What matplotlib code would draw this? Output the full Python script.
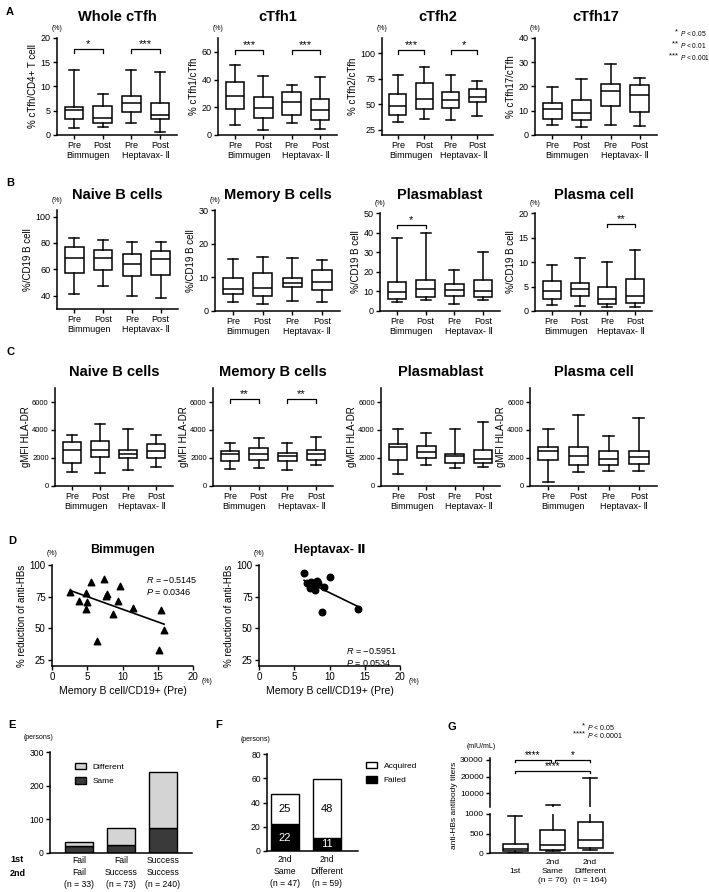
import matplotlib
matplotlib.use('Agg')
import matplotlib.pyplot as plt
import numpy as np

plt.rcParams['font.family'] = ['Liberation Sans', 'DejaVu Sans']
plt.rcParams['mathtext.fontset'] = 'custom'
plt.rcParams['mathtext.it'] = 'Liberation Sans:italic'
plt.rcParams['mathtext.rm'] = 'Liberation Sans'

W, H = 709, 892
fig = plt.figure(figsize=(W / 100, H / 100), dpi=100)

# ---------------- data ----------------
box_labels = ['Pre', 'Post', 'Pre', 'Post']
groups = ['Bimmugen', 'Heptavax- Ⅱ']

# five-number summaries: whisker low, q1, median, q3, whisker high
whole_ctfh = [[1.4, 3.4, 5.2, 5.7, 13.3], [1.7, 2.4, 3.6, 6.0, 8.4],
              [2.4, 4.7, 6.5, 8.1, 13.3], [0.7, 3.2, 4.2, 6.5, 12.9]]
ctfh1 = [[6.9, 18.5, 28.4, 38.4, 50.2], [3.6, 12.6, 19.7, 27.3, 42.7],
         [9.0, 14.2, 23.7, 30.8, 36.3], [4.0, 11.1, 18.2, 25.8, 41.5]]
ctfh2 = [[32.7, 40.0, 48.0, 60.0, 78.5], [36.0, 45.5, 55.4, 71.0, 86.5],
         [34.6, 46.5, 54.5, 62.5, 78.5], [39.0, 52.2, 57.7, 64.7, 73.0]]
ctfh17 = [[4.2, 6.7, 10.8, 13.2, 19.7], [3.2, 6.3, 9.0, 14.6, 22.9],
          [4.2, 11.8, 18.0, 21.1, 29.4], [3.8, 9.4, 16.4, 20.6, 23.6]]

naive_b = [[41.0, 57.0, 68.4, 76.7, 83.5], [47.3, 59.5, 69.0, 74.7, 82.3],
           [40.0, 55.0, 63.8, 71.6, 80.5], [38.5, 55.7, 67.8, 74.2, 80.5]]
memory_b = [[2.8, 5.0, 6.5, 9.7, 15.4], [2.1, 4.4, 6.9, 11.2, 16.1],
            [3.0, 7.2, 8.4, 9.9, 15.8], [2.8, 6.2, 8.7, 12.2, 15.1]]
plasmablast = [[4.7, 6.2, 9.8, 14.6, 37.0], [5.4, 7.2, 11.4, 15.7, 40.0],
               [3.7, 7.9, 10.9, 13.8, 20.7], [5.4, 7.2, 10.1, 15.7, 30.0]]
plasma = [[1.3, 2.5, 4.0, 6.1, 9.3], [1.0, 3.0, 4.4, 5.8, 10.8],
          [0.8, 1.4, 2.5, 4.9, 10.0], [0.8, 1.6, 3.1, 6.6, 12.4]]

hla_naive = [[980, 1670, 2570, 3120, 3640], [950, 2100, 2570, 3240, 4400],
             [1140, 1980, 2290, 2570, 4050], [1330, 1980, 2500, 3000, 3640]]
hla_memory = [[1200, 1760, 2260, 2470, 3060], [1320, 1880, 2260, 2700, 3410],
              [1130, 1760, 2110, 2350, 3060], [1530, 1880, 2260, 2540, 3480]]
hla_plasmablast = [[850, 1880, 2820, 3000, 4060], [1480, 2000, 2420, 2890, 3760],
                   [1290, 1670, 2120, 2260, 4060], [1360, 1670, 1950, 2540, 4540]]
hla_plasma = [[280, 1880, 2490, 2820, 4060], [970, 1480, 2110, 2820, 5050],
              [1060, 1530, 1950, 2470, 3600], [1060, 1550, 2070, 2470, 4830]]

# D: memory B cell % (pre) vs % reduction of anti-HBs
bim_x = [2.6, 3.9, 4.8, 5.0, 4.8, 5.6, 6.4, 7.4, 7.7, 7.8, 8.6, 9.4, 9.7, 11.5, 15.5, 15.2, 15.9]
bim_y = [79, 71.6, 78.2, 71, 65.3, 86.3, 39.5, 89, 75.8, 77.1, 61.3, 71.8, 83.4, 66.3, 64.5, 32.4, 48.2]
hep_x = [6.4, 6.8, 7.4, 7.7, 7.9, 8.2, 7.2, 9.2, 10.1, 9.0, 14.1, 8.4]
hep_y = [93.4, 85.5, 86.8, 82.9, 80.3, 87.6, 81.6, 82.9, 90.8, 62.4, 65.3, 85.5]

# E: second vaccination outcome
e_cats = ['Fail\nFail\n(n = 33)', 'Fail\nSuccess\n(n = 73)', 'Success\nSuccess\n(n = 240)']
e_same = [20, 23, 75]
e_diff = [13, 50, 165]

# F: same vs different vaccine at 2nd round
f_cats = ['2nd\nSame\n(n = 47)', '2nd\nDifferent\n(n = 59)']
f_failed = [22, 11]
f_acquired = [25, 48]

# G: anti-HBs titers
g_cats = ['\n1st\n', '2nd\nSame\n(n = 76)', '2nd\nDifferent\n(n = 164)']
g_boxes = [[5, 42, 100, 237, 957], [42, 85, 212, 593, 3000], [68, 127, 322, 788, 19000]]

LW = 1.1


def px_axes(x0, y0, x1, y1):
    return fig.add_axes([x0 / W, 1 - y1 / H, (x1 - x0) / W, (y1 - y0) / H])


def style(ax, fs=6.5):
    for s in ['top', 'right']:
        ax.spines[s].set_visible(False)
    for s in ['left', 'bottom']:
        ax.spines[s].set_linewidth(LW)
    ax.tick_params(width=1.0, length=3, labelsize=fs, pad=1.5)


def draw_box(ax, summaries, positions, width):
    stats = [dict(whislo=s[0], q1=s[1], med=s[2], q3=s[3], whishi=s[4], fliers=[]) for s in summaries]
    ax.bxp(stats, positions=positions, widths=width, showfliers=False, patch_artist=True,
           manage_ticks=False, capwidths=width * 0.55,
           boxprops=dict(facecolor='white', edgecolor='black', linewidth=LW),
           medianprops=dict(color='black', linewidth=LW),
           whiskerprops=dict(color='black', linewidth=LW),
           capprops=dict(color='black', linewidth=LW))


def bracket(ax, x1, x2, y, text, drop, fs=8):
    ax.plot([x1, x1, x2, x2], [y - drop, y, y, y - drop], color='black', lw=0.9, clip_on=False)
    ax.text((x1 + x2) / 2, y, text, ha='center', va='bottom', fontsize=fs, clip_on=False)


def box_panel(box, summaries, ylim, yticks, ylabel, title, title_dy, pct=True, sig=(), fs=6.5, lpad=2):
    ax = px_axes(*box)
    draw_box(ax, summaries, [1, 2, 3, 4], 0.65)
    ax.set_xlim(0.4, 4.6)
    ax.set_ylim(*ylim)
    ax.set_yticks(yticks)
    ax.set_xticks([1, 2, 3, 4])
    ax.set_xticklabels(box_labels)
    ax.set_ylabel(ylabel, fontsize=7, labelpad=lpad)
    style(ax, fs=fs)
    ax.tick_params(axis='x', labelsize=6.5)
    ax.annotate(title, xy=(2.5, 1), xycoords=('data', 'axes fraction'), xytext=(0, title_dy),
                textcoords='offset points', ha='center', va='center', fontsize=10.5, fontweight='bold')
    for i, g in enumerate(groups):
        ax.annotate(g, xy=(1.5 + 2 * i, 0), xycoords=('data', 'axes fraction'), xytext=(0, -15),
                    textcoords='offset points', ha='center', va='center', fontsize=6.5)
    if pct:
        ax.annotate('(%)', xy=(0, 1), xycoords='axes fraction', xytext=(0, 4),
                    textcoords='offset points', ha='center', va='bottom', fontsize=5)
    drop = 0.035 * (ylim[1] - ylim[0])
    for x1, x2, y, t in sig:
        bracket(ax, x1, x2, y, t, drop)
    return ax


# ---------------- row A ----------------
box_panel((57, 38, 177, 135), whole_ctfh, (0, 20), [0, 5, 10, 15, 20], '% cTfh/CD4+ T cell', 'Whole cTfh', 15,
          sig=[(1, 2, 17.7, '*'), (3, 4, 17.7, '***')])
box_panel((218, 38, 337, 135), ctfh1, (0, 70), [0, 20, 40, 60], '% cTfh1/cTfh', 'cTfh1', 15,
          sig=[(1, 2, 61, '***'), (3, 4, 61, '***')])
box_panel((382, 38, 493, 135), ctfh2, (20, 115), [25, 50, 75, 100], '% cTfh2/cTfh', 'cTfh2', 15,
          sig=[(1, 2, 103, '***'), (3, 4, 103, '*')])
box_panel((535, 38, 657, 135), ctfh17, (0, 40), [0, 10, 20, 30, 40], '% cTfh17/cTfh', 'cTfh17', 15)

for i, (st, pv) in enumerate([('*', '0.05'), ('**', '0.01'), ('***', '0.001')]):
    y = 1 - (33 + 12 * i) / H
    fig.text(680 / W, y, st + ' ', ha='right', va='center', fontsize=5.5)
    fig.text(680 / W, y, r'$\it{P}$ < ' + pv, ha='left', va='center', fontsize=4.8)

# ---------------- row B ----------------
box_panel((57, 210, 178, 309), naive_b, (30, 105), [40, 60, 80, 100], '%/CD19 B cell', 'Naive B cells', 11)
box_panel((215, 210, 340, 311), memory_b, (0, 30), [0, 10, 20, 30], '%/CD19 B cell', 'Memory B cells', 11)
box_panel((380, 213, 500, 311), plasmablast, (0, 50), [0, 10, 20, 30, 40, 50], '%/CD19 B cell', 'Plasmablast', 13,
          sig=[(1, 2, 44, '*')])
box_panel((535, 213, 652, 311), plasma, (0, 20), [0, 5, 10, 15, 20], '%/CD19 B cell', 'Plasma cell', 13,
          sig=[(3, 4, 17.8, '**')])

# ---------------- row C ----------------
hla_ticks = [0, 2000, 4000, 6000]
box_panel((55, 388, 173, 486), hla_naive, (0, 7000), hla_ticks, 'gMFI HLA-DR', 'Naive B cells', 11.5,
          pct=False, fs=5.5, lpad=1)
box_panel((213, 388, 333, 486), hla_memory, (0, 7000), hla_ticks, 'gMFI HLA-DR', 'Memory B cells', 11.5,
          pct=False, fs=5.5, lpad=1, sig=[(1, 2, 6190, '**'), (3, 4, 6190, '**')])
box_panel((381, 388, 500, 486), hla_plasmablast, (0, 7000), hla_ticks, 'gMFI HLA-DR', 'Plasmablast', 11.5,
          pct=False, fs=5.5, lpad=1)
box_panel((530, 388, 657, 486), hla_plasma, (0, 7000), hla_ticks, 'gMFI HLA-DR', 'Plasma cell', 11.5,
          pct=False, fs=5.5, lpad=1)


# ---------------- row D ----------------
def scatter_panel(box, xs, ys, marker, title, rtext, ptext, txy):
    ax = px_axes(*box)
    ax.scatter(xs, ys, marker=marker, s=22, color='black', zorder=3)
    k, b = np.polyfit(xs, ys, 1)
    xx = np.array([min(xs), max(xs)])
    ax.plot(xx, k * xx + b, color='black', lw=1.2)
    ax.set_xlim(0, 20)
    ax.set_ylim(20, 100)
    ax.set_xticks([0, 5, 10, 15, 20])
    ax.set_yticks([25, 50, 75, 100])
    style(ax, fs=7)
    ax.set_xlabel('Memory B cell/CD19+ (Pre)', fontsize=7.5, labelpad=3)
    ax.set_ylabel('% reduction of anti-HBs', fontsize=7, labelpad=2)
    ax.set_title(title, fontsize=9, fontweight='bold', pad=9)
    ax.annotate('(%)', xy=(0, 1), xycoords='axes fraction', xytext=(0, 6),
                textcoords='offset points', ha='center', va='bottom', fontsize=5)
    ax.annotate('(%)', xy=(1, 0), xycoords='axes fraction', xytext=(6, -11),
                textcoords='offset points', ha='left', va='center', fontsize=5)
    ax.text(txy[0], txy[1], r'$\it{R}$ = ' + rtext, fontsize=6.5, transform=ax.transAxes)
    ax.text(txy[0], txy[1] - 0.12, r'$\it{P}$ = ' + ptext, fontsize=6.5, transform=ax.transAxes)


scatter_panel((52, 565, 193, 666), bim_x, bim_y, '^', 'Bimmugen', '\u22120.5145', '0.0346', (0.67, 0.82))
scatter_panel((259, 565, 400, 666), hep_x, hep_y, 'o', 'Heptavax- Ⅱ', '\u22120.5951', '0.0534', (0.62, 0.12))

# ---------------- row E ----------------
ax_e = px_axes(50, 752, 192, 853)
xe = np.arange(len(e_cats))
ax_e.bar(xe, e_same, width=0.67, color='#3a3a3a', edgecolor='black', lw=1, label='Same')
ax_e.bar(xe, e_diff, width=0.67, bottom=e_same, color='#d4d4d4', edgecolor='black', lw=1, label='Different')
ax_e.set_xlim(-0.69, 2.69)
ax_e.set_ylim(0, 300)
ax_e.set_yticks([0, 100, 200, 300])
ax_e.set_xticks(xe)
ax_e.set_xticklabels(e_cats, linespacing=1.45)
style(ax_e, fs=6.2)
ax_e.tick_params(axis='x', length=0, pad=2)
h, l = ax_e.get_legend_handles_labels()
ax_e.legend(h[::-1], l[::-1], loc='upper left', bbox_to_anchor=(0.12, 0.97), frameon=False, fontsize=6,
            handlelength=1.4, handleheight=0.9, labelspacing=0.7)
ax_e.annotate('(persons)', xy=(0, 1), xycoords='axes fraction', xytext=(-8, 8),
              textcoords='offset points', ha='center', va='bottom', fontsize=5)
fig.text(10 / W, 1 - 859 / H, '1st', fontsize=6.5, fontweight='bold', va='center')
fig.text(10 / W, 1 - 873 / H, '2nd', fontsize=6.5, fontweight='bold', va='center')

# ---------------- row F ----------------
ax_f = px_axes(267, 754, 358, 851)
xf = np.arange(len(f_cats))
ax_f.bar(xf, f_failed, width=0.67, color='black', edgecolor='black', lw=1, label='Failed')
ax_f.bar(xf, f_acquired, width=0.67, bottom=f_failed, color='white', edgecolor='black', lw=1, label='Acquired')
for i in range(len(xf)):
    ax_f.text(xf[i], f_failed[i] / 2, str(f_failed[i]), color='white', ha='center', va='center', fontsize=8)
    ax_f.text(xf[i], f_failed[i] + f_acquired[i] / 2, str(f_acquired[i]), color='black', ha='center',
              va='center', fontsize=8)
ax_f.set_xlim(-0.43, 1.74)
ax_f.set_ylim(0, 80)
ax_f.set_yticks([0, 20, 40, 60, 80])
ax_f.set_xticks(xf)
ax_f.set_xticklabels(f_cats, linespacing=1.45)
style(ax_f, fs=6.2)
ax_f.tick_params(axis='x', length=0, pad=3)
h, l = ax_f.get_legend_handles_labels()
ax_f.legend(h[::-1], l[::-1], loc='upper left', bbox_to_anchor=(1.0, 1.0), frameon=False, fontsize=6,
            handlelength=1.4, handleheight=0.9, labelspacing=0.7)
ax_f.annotate('(persons)', xy=(0, 1), xycoords='axes fraction', xytext=(-8, 8),
              textcoords='offset points', ha='center', va='bottom', fontsize=5)

# ---------------- row G ----------------
g_lo = px_axes(490, 814, 613, 853)
g_hi = px_axes(490, 758, 613, 807)
for a in (g_lo, g_hi):
    draw_box(a, g_boxes, [1, 2, 3], 0.67)
    a.set_xlim(0.33, 3.61)
    style(a, fs=6)
g_lo.set_ylim(0, 1000)
g_lo.set_yticks([0, 500, 1000])
g_lo.set_xticks([1, 2, 3])
g_lo.set_xticklabels(g_cats, linespacing=1.4)
g_lo.tick_params(axis='x', length=0, pad=4)
g_hi.set_ylim(2000, 31000)
g_hi.set_yticks([10000, 20000, 30000])
g_hi.spines['bottom'].set_visible(False)
g_hi.set_xticks([])
bracket(g_hi, 1, 1.95, 30000, '****', 1300, fs=7)
bracket(g_hi, 2.05, 3, 30000, '*', 1300, fs=7)
bracket(g_hi, 1, 3, 23300, '****', 1300, fs=7)
g_hi.annotate('(mIU/mL)', xy=(0, 1), xycoords='axes fraction', xytext=(-6, 6),
              textcoords='offset points', ha='center', va='bottom', fontsize=5)
fig.text(455 / W, 1 - 805 / H, 'anti-HBs antibody titers', rotation=90, ha='center', va='center', fontsize=6)
for i, (st, pv) in enumerate([('*', '0.05'), ('****', '0.0001')]):
    y = 1 - (727 + 8 * i) / H
    fig.text(587 / W, y, st + ' ', ha='right', va='center', fontsize=5.5)
    fig.text(587 / W, y, r'$\it{P}$ < ' + pv, ha='left', va='center', fontsize=5)

# ---------------- panel letters ----------------
for letter, x, y in [('A', 6, 12), ('B', 6, 183), ('C', 6, 352), ('D', 8, 541),
                     ('E', 8, 725), ('F', 215, 725), ('G', 447, 727)]:
    fig.text(x / W, 1 - y / H, letter, fontsize=8, fontweight='bold', va='center')

fig.savefig('out.png', dpi=100)
